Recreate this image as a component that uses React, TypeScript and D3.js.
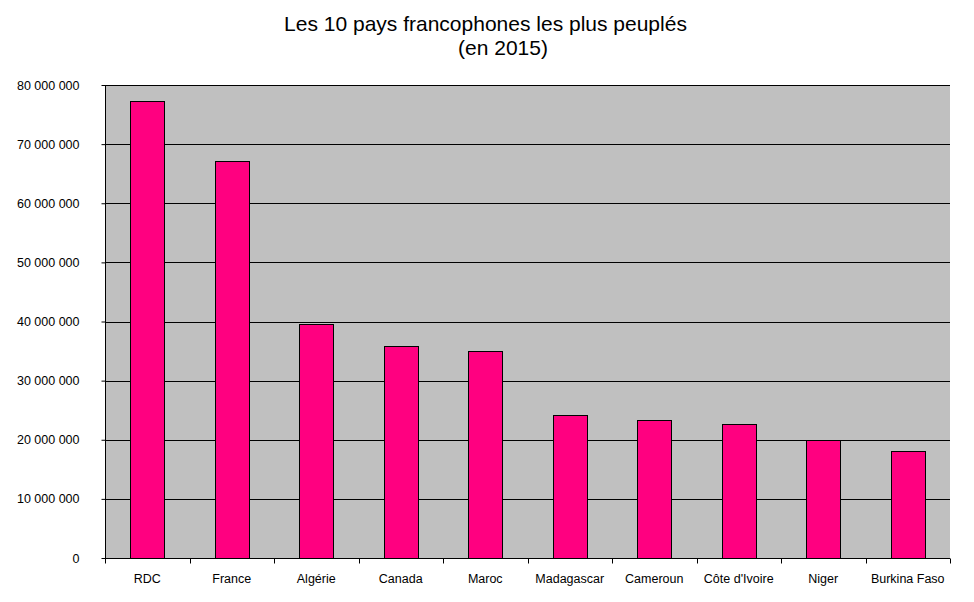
import React, { useRef, useEffect } from "react";
import * as d3 from "d3";

const countries = [
  "RDC",
  "France",
  "Algérie",
  "Canada",
  "Maroc",
  "Madagascar",
  "Cameroun",
  "Côte d'Ivoire",
  "Niger",
  "Burkina Faso",
];
const population = [
  77300000, 67200000, 39600000, 35900000, 35000000, 24200000, 23300000,
  22600000, 19900000, 18100000,
];
const yTicks = [0, 10000000, 20000000, 30000000, 40000000, 50000000, 60000000, 70000000, 80000000];
const titleLines = ["Les 10 pays francophones les plus peuplés", "(en 2015)"];

export default function App() {
  const svgRef = useRef<SVGSVGElement>(null);

  useEffect(() => {
    if (!svgRef.current) return;
    const svg = d3.select(svgRef.current);
    svg.selectAll("*").remove();

    const width = 974;
    const height = 602;
    const margin = { top: 85, right: 24, bottom: 44, left: 105 };
    const innerWidth = width - margin.left - margin.right;
    const innerHeight = height - margin.top - margin.bottom;
    const font = "'Liberation Sans', Arial, sans-serif";

    svg.attr("width", width).attr("height", height);

    // white background
    svg.append("rect").attr("width", width).attr("height", height).attr("fill", "#ffffff");

    // title, two lines
    svg.append("text")
      .attr("x", 485.5)
      .attr("y", 31)
      .attr("text-anchor", "middle")
      .style("font-family", font)
      .style("font-size", "21px")
      .style("fill", "#000")
      .text(titleLines[0]);
    svg.append("text")
      .attr("x", 503)
      .attr("y", 55)
      .attr("text-anchor", "middle")
      .style("font-family", font)
      .style("font-size", "21px")
      .style("fill", "#000")
      .text(titleLines[1]);

    const x = d3.scaleBand<string>()
      .domain(countries)
      .range([0, innerWidth])
      .paddingInner(0.6)
      .paddingOuter(0.3);

    const y = d3.scaleLinear()
      .domain([0, 80000000])
      .range([innerHeight, 0]);

    const g = svg.append("g")
      .attr("transform", `translate(${margin.left},${margin.top})`);

    // grey plot area
    g.append("rect")
      .attr("width", innerWidth)
      .attr("height", innerHeight)
      .attr("fill", "#c0c0c0");

    // horizontal grid lines
    g.selectAll("line.grid")
      .data(yTicks.slice(1))
      .enter()
      .append("line")
      .attr("class", "grid")
      .attr("x1", 0)
      .attr("x2", innerWidth)
      .attr("y1", d => Math.round(y(d)) + 0.5)
      .attr("y2", d => Math.round(y(d)) + 0.5)
      .attr("stroke", "#000")
      .attr("stroke-width", 1);

    // bars
    g.selectAll("rect.bar")
      .data(population)
      .enter()
      .append("rect")
      .attr("class", "bar")
      .attr("x", (_, i) => Math.round(x(countries[i])!) + 0.5)
      .attr("y", d => Math.round(y(d)) + 0.5)
      .attr("width", Math.round(x.bandwidth()))
      .attr("height", d => Math.round(innerHeight - y(d)))
      .attr("fill", "#ff0080")
      .attr("stroke", "#000")
      .attr("stroke-width", 1);

    // y axis
    const fmt = (v: number) => (v === 0 ? "0" : d3.format(",")(v).replace(/,/g, " "));
    const yAxis = g.append("g")
      .attr("transform", "translate(0.5,0)")
      .call(d3.axisLeft(y).tickValues(yTicks).tickSize(4).tickPadding(22).tickFormat(d => fmt(Number(d))));
    yAxis.select(".domain").attr("stroke", "#000").attr("d", `M0,0V${innerHeight}`);
    yAxis.selectAll(".tick line").attr("stroke", "#000");
    yAxis.selectAll("text")
      .style("font-family", font)
      .style("font-size", "12.5px")
      .style("fill", "#000");

    // x axis with ticks between categories
    const step = x.step();
    const xAxis = g.append("g").attr("transform", `translate(0,${innerHeight + 0.5})`);
    xAxis.append("line")
      .attr("x1", 0)
      .attr("x2", innerWidth)
      .attr("stroke", "#000");
    xAxis.selectAll("line.tick")
      .data(d3.range(countries.length + 1))
      .enter()
      .append("line")
      .attr("class", "tick")
      .attr("x1", i => Math.round(i * step) + 0.5)
      .attr("x2", i => Math.round(i * step) + 0.5)
      .attr("y1", 0)
      .attr("y2", 5)
      .attr("stroke", "#000");
    xAxis.selectAll("text")
      .data(countries)
      .enter()
      .append("text")
      .attr("x", d => x(d)! + x.bandwidth() / 2)
      .attr("y", 24)
      .attr("text-anchor", "middle")
      .style("font-family", font)
      .style("font-size", "12.5px")
      .style("fill", "#000")
      .text(d => d);
  }, []);

  return (
    <svg
      ref={svgRef}
      style={{ position: "absolute", left: 0, top: 0, display: "block" }}
    />
  );
}
